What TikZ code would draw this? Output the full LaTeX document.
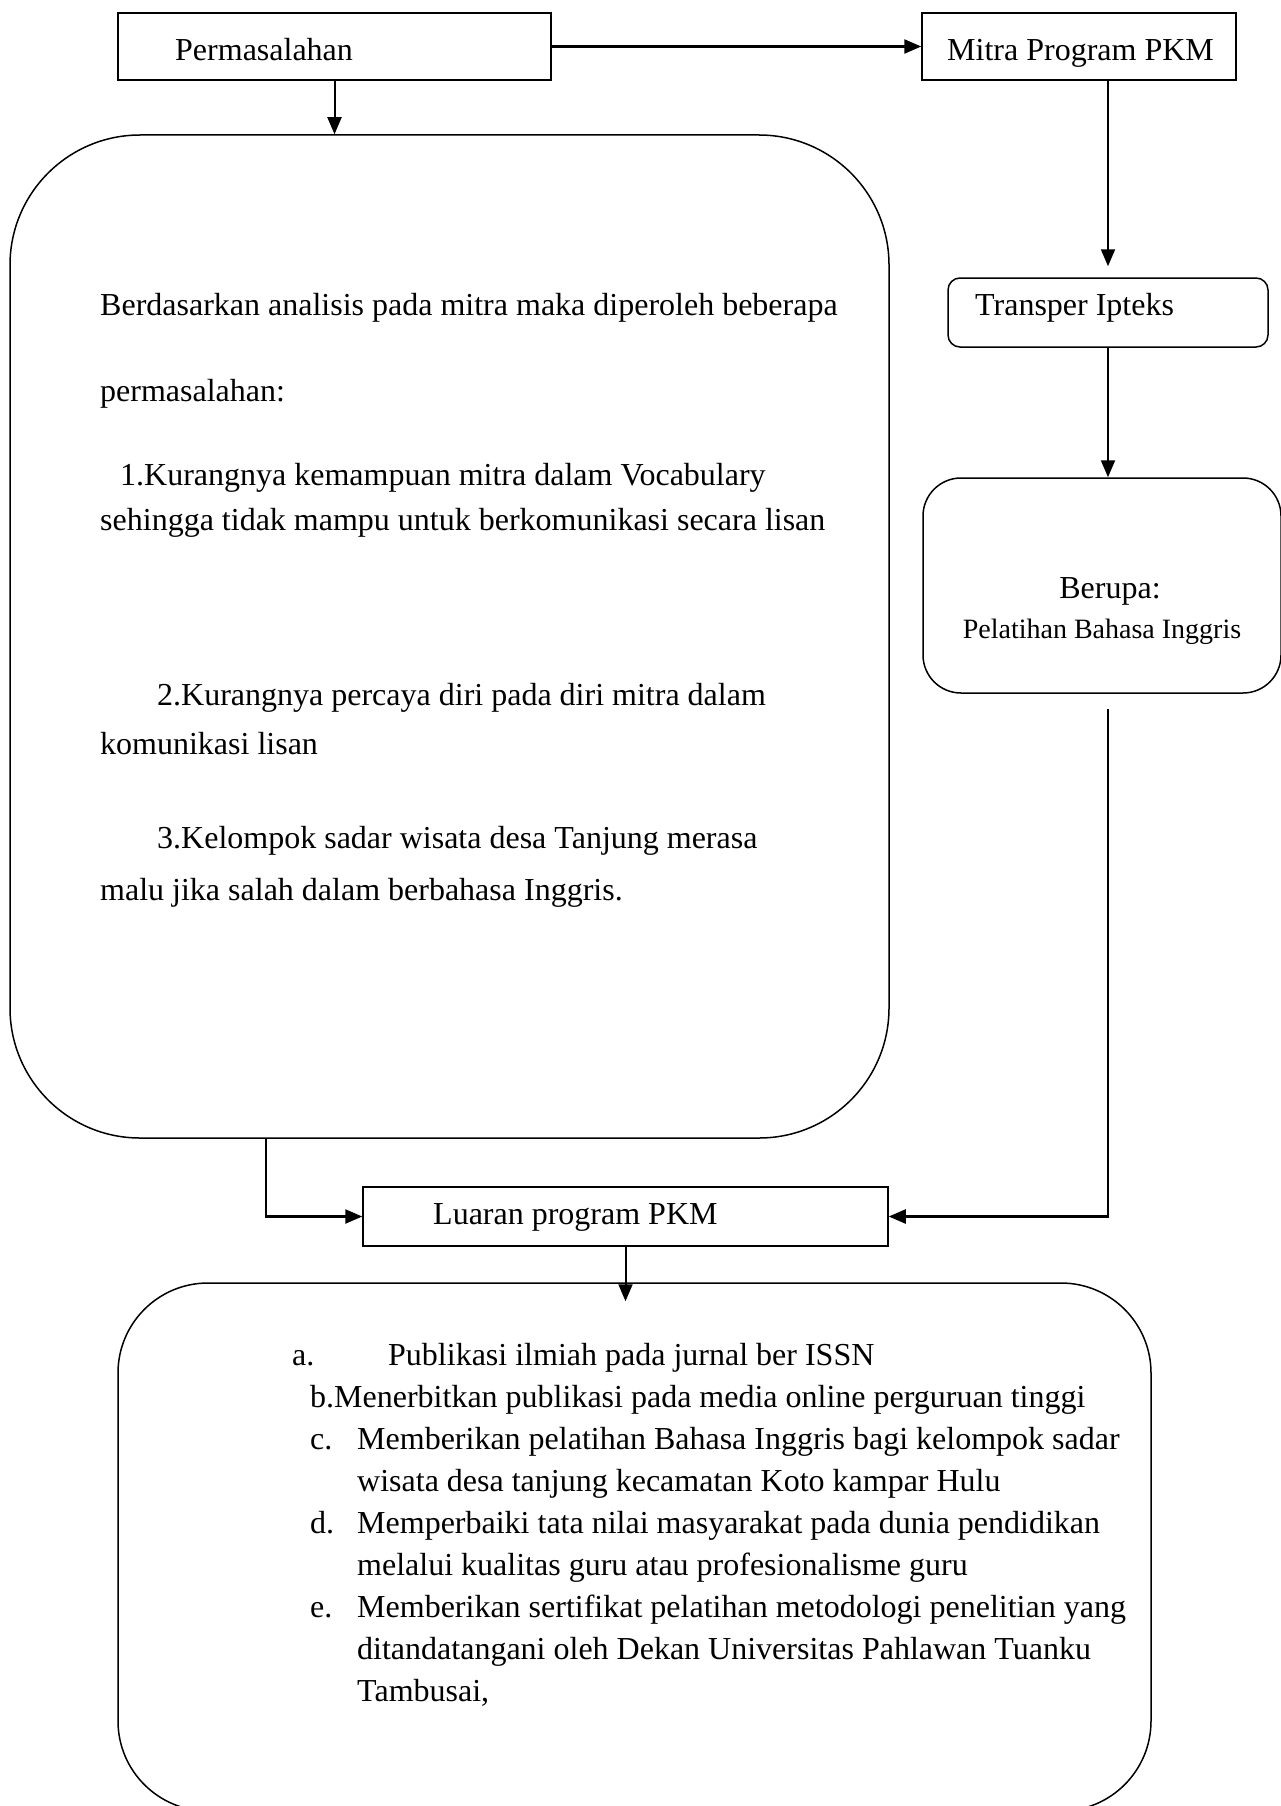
\documentclass[tikz,border=0pt]{standalone}
\usepackage{fontspec}
\setmainfont{Liberation Serif}
\usetikzlibrary{arrows.meta,positioning}
\tikzset{>={Triangle[length=17pt,width=14pt]}}
\tikzset{
  kotak/.style={draw, line width=1.5pt, inner sep=0pt},
  teks/.style={anchor=base west, inner sep=0pt, font=\fontsize{32}{38}\selectfont},
  panah/.style={->, line width=2pt},
  panahtebal/.style={->, line width=2.4pt},
}

\begin{document}
\begin{tikzpicture}[x=1pt,y=-1pt]
\useasboundingbox (0,0) rectangle (1280,1806);

% kotak
\node[kotak, minimum width=433pt, minimum height=67pt] (perm) at (334.5,46.5) {};
\node[kotak, minimum width=314pt, minimum height=67pt] (mitra) at (1079,46.5) {};
\node[kotak, rounded corners=130pt, minimum width=879pt, minimum height=1003pt] (masalah) at (449.5,636.5) {};
\node[kotak, rounded corners=12pt, minimum width=320pt, minimum height=69pt] (tip) at (1108,312.5) {};
\node[kotak, rounded corners=38pt, minimum width=358pt, minimum height=215pt] (berupa) at (1102,585.5) {};
\node[kotak, minimum width=525pt, minimum height=59pt] (luaran) at (625.5,1216.5) {};
\node[kotak, rounded corners=90pt, minimum width=1033pt, minimum height=528pt] (hasil) at (634.5,1547) {};

% teks kotak
\node[teks] (tperm) at (175,61) {Permasalahan};
\node[teks] (tmitra) at (947,61) {Mitra Program PKM};
\node[teks] (ttip) at (975,315) {Transper Ipteks};
\node[teks, anchor=base] (tberupa) at (1110,598) {Berupa:};
\node[teks, anchor=base, font=\fontsize{28}{34}\selectfont] (tpelatihan) at (1102,638) {Pelatihan Bahasa Inggris};
\node[teks] (tluaran) at (433,1224) {Luaran program PKM};

% permasalahan
\foreach \xx/\yy/\isi [count=\i] in {
  100/315/{Berdasarkan analisis pada mitra maka diperoleh beberapa},
  100/401/{permasalahan:},
  120/485/{1.Kurangnya kemampuan mitra dalam Vocabulary},
  100/530/{sehingga tidak mampu untuk berkomunikasi secara lisan},
  157/705/{2.Kurangnya percaya diri pada diri mitra dalam},
  100/754/{komunikasi lisan},
  157/848/{3.Kelompok sadar wisata desa Tanjung merasa},
  100/900/{malu jika salah dalam berbahasa Inggris.}}
  \node[teks] (m\i) at (\xx,\yy) {\isi};

% luaran
\foreach \xx/\yy/\isi [count=\i] in {
  292/1365/{a.},
  388/1365/{Publikasi ilmiah pada jurnal ber ISSN},
  310/1407/{b.Menerbitkan publikasi pada media online perguruan tinggi},
  310/1449/{c.},
  357/1449/{Memberikan pelatihan Bahasa Inggris bagi kelompok sadar},
  357/1491/{wisata desa tanjung kecamatan Koto kampar Hulu},
  310/1533/{d.},
  357/1533/{Memperbaiki tata nilai masyarakat pada dunia pendidikan},
  357/1575/{melalui kualitas guru atau profesionalisme guru},
  310/1617/{e.},
  357/1617/{Memberikan sertifikat pelatihan metodologi penelitian yang},
  357/1659/{ditandatangani oleh Dekan Universitas Pahlawan Tuanku},
  357/1701/{Tambusai,}}
  \node[teks] (l\i) at (\xx,\yy) {\isi};

% panah
\draw[panahtebal] (perm.east) -- (mitra.west);
\draw[panah] (perm.south) -- (perm.south |- masalah.north);
\draw[panah, shorten >=11pt] (mitra.south -| tip.north) -- (tip.north);
\draw[panah] (tip.south) -- (tip.south |- berupa.north);
\draw[panahtebal] ([xshift=-183.5pt]masalah.south) |- (luaran.west);
\draw[panahtebal, shorten <=15pt] (tip.south |- berupa.south) |- (luaran.east);
\draw[panah] (luaran.south) -- ([yshift=-19pt]luaran.south |- hasil.north);
\end{tikzpicture}
\end{document}
